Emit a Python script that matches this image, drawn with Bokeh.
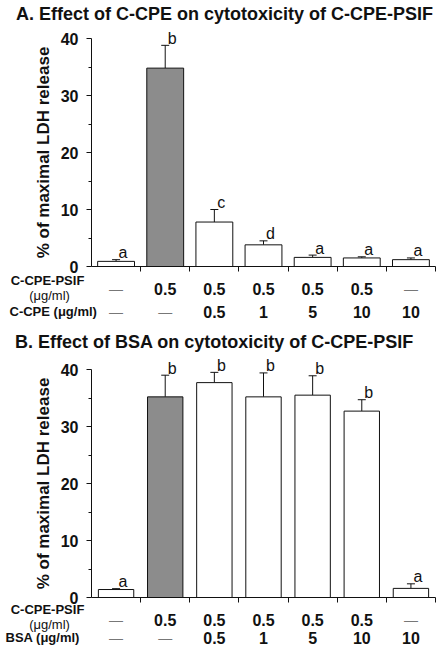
from bokeh.plotting import figure
from bokeh.models import ColumnDataSource, Whisker, TeeHead, FixedTicker
from bokeh.layouts import column
from bokeh.core.properties import value
from bokeh.embed import file_html
from bokeh.resources import INLINE

# ---------------- data ----------------
letters_a = ["a", "b", "c", "d", "a", "a", "a"]
values_a = [0.9, 34.8, 7.8, 3.8, 1.6, 1.5, 1.2]
errors_a = [0.3, 4.0, 2.2, 0.7, 0.4, 0.2, 0.3]
psif_a = ["—", "0.5", "0.5", "0.5", "0.5", "0.5", "—"]
cpe_a = ["—", "—", "0.5", "1", "5", "10", "10"]

letters_b = ["a", "b", "b", "b", "b", "b", "a"]
values_b = [1.4, 35.2, 37.7, 35.2, 35.5, 32.7, 1.6]
errors_b = [0.15, 3.8, 1.8, 4.2, 3.4, 2.0, 0.8]
psif_b = ["—", "0.5", "0.5", "0.5", "0.5", "0.5", "—"]
bsa_b = ["—", "—", "0.5", "1", "5", "10", "10"]

fills = ["white", "#8c8c8c", "white", "white", "white", "white", "white"]
y_ticks = [0, 10, 20, 30, 40]
y_minor = [5, 15, 25, 35]
x_ticks = [0.5, 1.5, 2.5, 3.5, 4.5, 5.5, 6.5]

FONT = value("Liberation Sans")
INK = "#111111"
W = 436
PPU_X = 344 / 7.0          # px per category
PPU_Y = 228 / 40.0         # px per % unit
X0 = -0.5 - 91 / PPU_X     # data x at the left edge of the canvas


def dx(px):
    return X0 + px / PPU_X


def panel(title, title_px, title_py, values, errors, letters, row1, row2,
          row2_label, row2_px, height, y0_px, bar_w, rows_py):
    def dy(py):
        return (y0_px - py) / PPU_Y

    xs = list(range(len(values)))
    p = figure(width=W, height=height,
               x_range=(X0, X0 + W / PPU_X),
               y_range=(-(height - y0_px) / PPU_Y, y0_px / PPU_Y),
               output_backend="svg", toolbar_location=None, title=None,
               min_border=0, min_border_left=0, min_border_right=0,
               min_border_top=0, min_border_bottom=0)
    p.outline_line_color = None
    p.xgrid.visible = False
    p.ygrid.visible = False

    src = ColumnDataSource(dict(x=xs, top=values, fill=fills,
                                upper=[v + e for v, e in zip(values, errors)],
                                lower=values, letter=letters))
    p.vbar(x="x", top="top", width=bar_w, bottom=0, fill_color="fill",
           line_color=INK, line_width=1, source=src)
    p.add_layout(Whisker(base="x", upper="upper", lower="lower", source=src,
                         dimension="height", line_color=INK, line_width=1,
                         upper_head=TeeHead(size=8, line_color=INK, line_width=1),
                         lower_head=None))
    p.text(x="x", y="upper", text="letter", source=src, text_align="center",
           text_baseline="alphabetic", x_offset=7, y_offset=-7,
           text_font=FONT, text_font_size="16px", text_color=INK)

    # x axis at y = 0
    xa = p.xaxis[0]
    xa.fixed_location = 0
    xa.bounds = (-0.5, 6.5)
    xa.ticker = FixedTicker(ticks=x_ticks)
    xa.major_label_overrides = {t: "" for t in x_ticks}
    xa.major_tick_out = 5
    xa.major_tick_in = 0
    xa.minor_tick_out = 0
    xa.axis_line_color = INK
    xa.major_tick_line_color = INK

    # y axis at x = -0.5
    ya = p.yaxis[0]
    ya.fixed_location = -0.5
    ya.ticker = FixedTicker(ticks=y_ticks, minor_ticks=y_minor)
    ya.bounds = (0, 40)
    ya.major_tick_out = 5
    ya.major_tick_in = 0
    ya.minor_tick_out = 3
    ya.minor_tick_in = 0
    ya.major_label_standoff = 8
    ya.major_label_text_font = "Liberation Sans"
    ya.major_label_text_font_style = "bold"
    ya.major_label_text_font_size = "16px"
    ya.major_label_text_color = INK
    ya.axis_line_color = INK
    ya.major_tick_line_color = INK
    ya.minor_tick_line_color = INK
    ya.axis_label = "% of maximal LDH release"
    ya.axis_label_text_font = "Liberation Sans"
    ya.axis_label_text_font_style = "bold"
    ya.axis_label_text_font_size = "17px"
    ya.axis_label_text_color = INK
    ya.axis_label_standoff = 5

    # title
    p.text(x=[dx(title_px)], y=[dy(title_py)], text=[title], text_align="center",
           text_baseline="middle", text_font=FONT, text_font_style="bold",
           text_font_size="18px", text_color=INK)

    lab1_py, lab1b_py, row1_py, row2_py = rows_py
    # row labels
    p.text(x=[dx(47)], y=[dy(lab1_py)], text=["C-CPE-PSIF"], text_align="center",
           text_baseline="middle", text_font=FONT, text_font_style="bold",
           text_font_size="13px", text_color=INK)
    p.text(x=[dx(49)], y=[dy(lab1b_py)], text=["(μg/ml)"], text_align="center",
           text_baseline="middle", text_font=FONT, text_font_size="13px",
           text_color=INK)
    p.text(x=[dx(row2_px)], y=[dy(row2_py)], text=[row2_label], text_align="left",
           text_baseline="middle", text_font=FONT, text_font_style="bold",
           text_font_size="13px", text_color=INK)

    # table values
    for row, py in ((row1, row1_py), (row2, row2_py)):
        num_x = [i for i, t in enumerate(row) if t != "—"]
        num_t = [t for t in row if t != "—"]
        dash_x = [i for i, t in enumerate(row) if t == "—"]
        dash_t = [t for t in row if t == "—"]
        p.text(x=num_x, y=[dy(py)] * len(num_x), text=num_t, text_align="center",
               text_baseline="middle", text_font=FONT, text_font_style="bold",
               text_font_size="16px", text_color=INK)
        p.text(x=dash_x, y=[dy(py)] * len(dash_x), text=dash_t, text_align="center",
               text_baseline="middle", text_font=FONT, text_font_size="14px",
               text_color="#777777")
    return p


# panel A: canvas page y 8..333 ; panel B: 333..653
pA = panel("A. Effect of C-CPE on cytotoxicity of C-CPE-PSIF", 224, 13,
           values_a, errors_a, letters_a, psif_a, cpe_a, "C-CPE (μg/ml)", 9,
           325, 266, 0.75, (280, 295, 288, 311))
pB = panel("B. Effect of BSA on cytotoxicity of C-CPE-PSIF", 214, 16,
           values_b, errors_b, letters_b, psif_b, bsa_b, "BSA (μg/ml)", 5,
           320, 272, 0.72, (284, 299, 294, 312))

layout = column(pA, pB)
open("out.html", "w").write(file_html(layout, INLINE))
